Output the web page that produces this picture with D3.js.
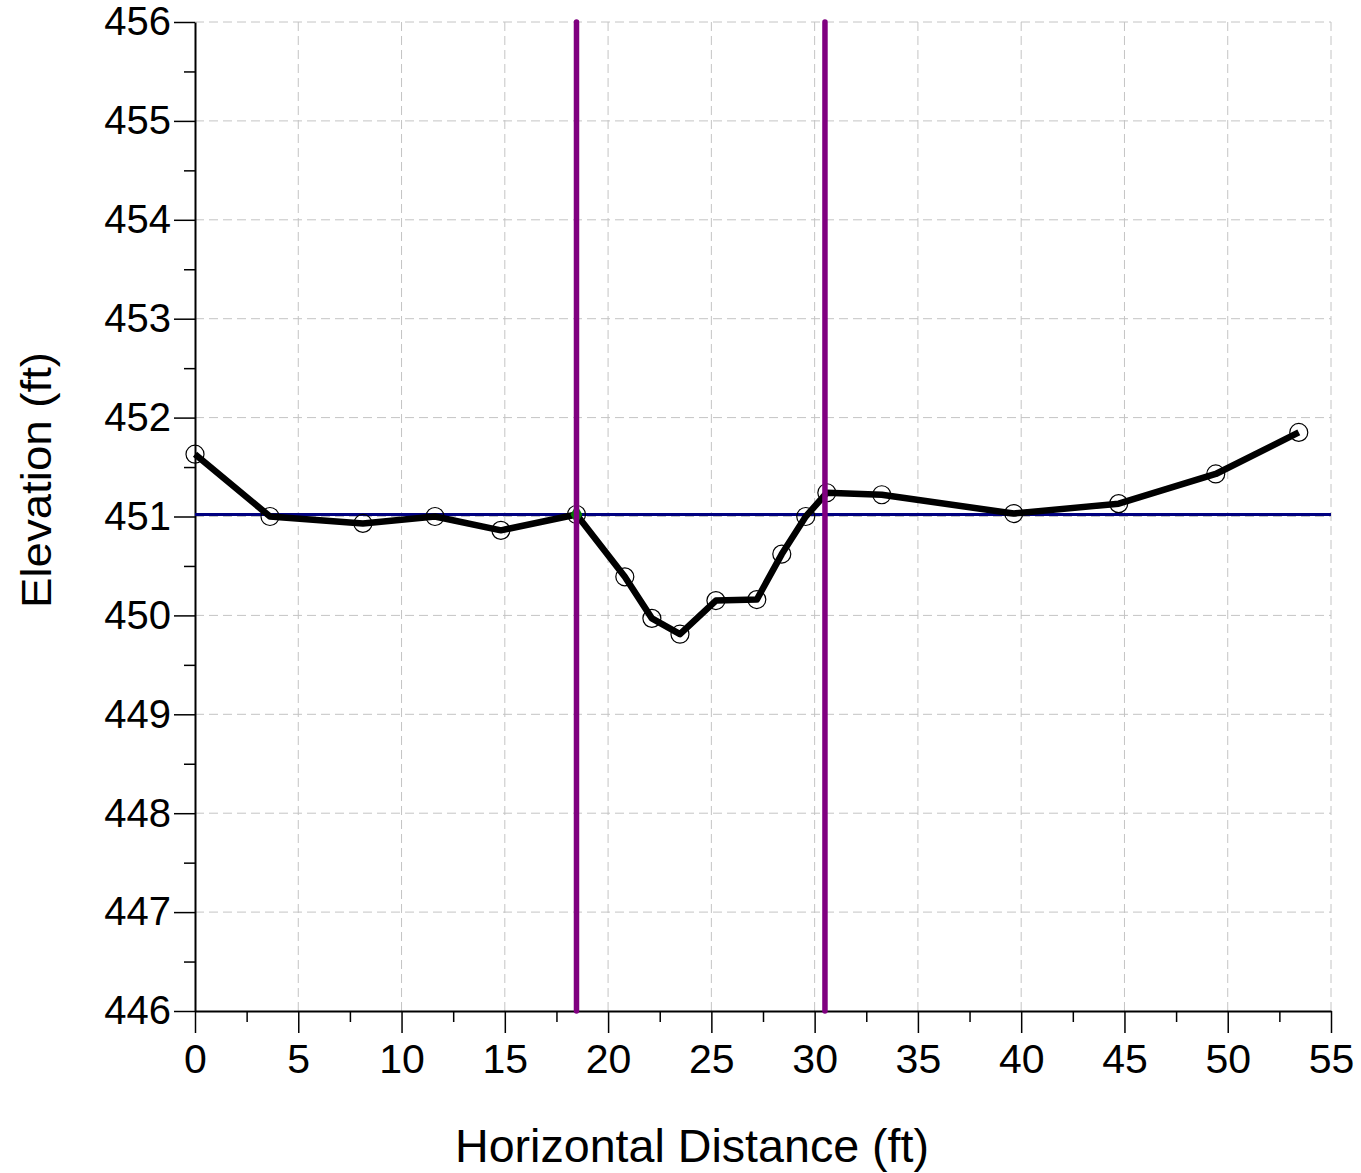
<!DOCTYPE html>
<html><head><meta charset="utf-8">
<script src="https://cdn.jsdelivr.net/npm/d3@7"></script>
<style>body{margin:0;background:#fff;} text{font-family:"Liberation Sans",Arial,sans-serif;}</style>
</head><body>
<svg id="chart" width="1361" height="1173"></svg>
<script>
const stations = [0, 3.63, 8.13, 11.62, 14.81, 18.47, 20.81, 22.12, 23.48, 25.22, 27.2, 28.41, 29.57, 30.59, 33.25, 39.64, 44.72, 49.42, 53.44];
const elevations = [451.63, 451.0, 450.93, 451.0, 450.86, 451.02, 450.39, 449.97, 449.81, 450.15, 450.16, 450.62, 451.0, 451.24, 451.22, 451.03, 451.13, 451.43, 451.85];
const waterSurface = 451.02;
const bankStations = [18.47, 30.5];
const xTicks = [0, 5, 10, 15, 20, 25, 30, 35, 40, 45, 50, 55];
const yTicks = [446, 447, 448, 449, 450, 451, 452, 453, 454, 455, 456];
const xTitle = "Horizontal Distance (ft)";
const yTitle = "Elevation (ft)";

const svg = d3.select("#chart");
const L = 195, R = 1331, T = 22, B = 1011;
const x = d3.scaleLinear().domain([0, 55]).range([L, R]);
const y = d3.scaleLinear().domain([446, 456]).range([B, T]);

// grid
const grid = svg.append("g");
grid.selectAll("line.vx").data(xTicks.slice(1)).enter().append("line")
  .attr("x1", d => x(d)).attr("x2", d => x(d)).attr("y1", T).attr("y2", B)
  .attr("stroke", "#c4c4c4").attr("stroke-width", 1).attr("stroke-dasharray", "9,5");
grid.selectAll("line.hy").data(yTicks.slice(1)).enter().append("line")
  .attr("x1", L).attr("x2", R).attr("y1", d => y(d)).attr("y2", d => y(d))
  .attr("stroke", "#c4c4c4").attr("stroke-width", 1).attr("stroke-dasharray", "9,5");

// minor ticks
const xMinor = d3.range(0, 55.01, 2.5).filter(v => !xTicks.includes(v));
const yMinor = d3.range(446, 456.01, 0.5).filter(v => !yTicks.includes(v));
svg.append("g").attr("transform", `translate(0,${B})`)
  .call(d3.axisBottom(x).tickValues(xMinor).tickSize(11).tickFormat(""))
  .call(g => { g.select(".domain").remove(); g.selectAll("line").attr("stroke", "#000").attr("stroke-width", 1.5); });
svg.append("g").attr("transform", `translate(${L},0)`)
  .call(d3.axisLeft(y).tickValues(yMinor).tickSize(11).tickFormat(""))
  .call(g => { g.select(".domain").remove(); g.selectAll("line").attr("stroke", "#000").attr("stroke-width", 1.5); });

// major axes
const xa = svg.append("g").attr("transform", `translate(0,${B})`)
  .call(d3.axisBottom(x).tickValues(xTicks).tickSize(22).tickSizeOuter(0).tickPadding(11).tickFormat(d3.format("d")));
xa.select(".domain").attr("stroke", "#000").attr("stroke-width", 2);
xa.selectAll("line").attr("stroke", "#000").attr("stroke-width", 1.5);
xa.selectAll("text").attr("font-size", 41).attr("fill", "#000").attr("font-family", "Liberation Sans, Arial, sans-serif");

const ya = svg.append("g").attr("transform", `translate(${L},0)`)
  .call(d3.axisLeft(y).tickValues(yTicks).tickSize(21).tickSizeOuter(0).tickPadding(3).tickFormat(d3.format("d")));
ya.select(".domain").attr("stroke", "#000").attr("stroke-width", 2);
ya.selectAll("line").attr("stroke", "#000").attr("stroke-width", 1.5);
ya.selectAll("text").attr("font-size", 40).attr("fill", "#000").attr("font-family", "Liberation Sans, Arial, sans-serif");

// water surface
svg.append("line").attr("x1", x(0)).attr("x2", x(55)).attr("y1", y(waterSurface)).attr("y2", y(waterSurface))
  .attr("stroke", "#000080").attr("stroke-width", 3);

// ground profile
const data = stations.map((s, i) => [s, elevations[i]]);
svg.append("path").datum(data)
  .attr("d", d3.line().x(d => x(d[0])).y(d => y(d[1])))
  .attr("fill", "none").attr("stroke", "#000").attr("stroke-width", 6.5).attr("stroke-linejoin", "round");
svg.selectAll("circle.pt").data(data).enter().append("circle")
  .attr("cx", d => x(d[0])).attr("cy", d => y(d[1])).attr("r", 9)
  .attr("fill", "none").attr("stroke", "#000").attr("stroke-width", 1.2);

// green marker at left bank water intersection
svg.append("path").attr("d", d3.symbol().type(d3.symbolDiamond).size(120)())
  .attr("transform", `translate(${x(bankStations[0])},${y(waterSurface)})`).attr("fill", "#008000");

// bank station lines
svg.selectAll("line.bank").data(bankStations).enter().append("line")
  .attr("x1", d => x(d)).attr("x2", d => x(d)).attr("y1", T).attr("y2", B)
  .attr("stroke", "#800080").attr("stroke-width", 5.5).attr("stroke-linecap", "round");

// titles
svg.append("text").attr("x", 692).attr("y", 1162).attr("text-anchor", "middle")
  .attr("font-size", 46).attr("textLength", 474).attr("lengthAdjust", "spacingAndGlyphs").text(xTitle);
svg.append("text").attr("transform", "translate(51,480) rotate(-90)").attr("text-anchor", "middle")
  .attr("font-size", 43).attr("textLength", 256).attr("lengthAdjust", "spacingAndGlyphs").text(yTitle);
</script>
</body></html>
